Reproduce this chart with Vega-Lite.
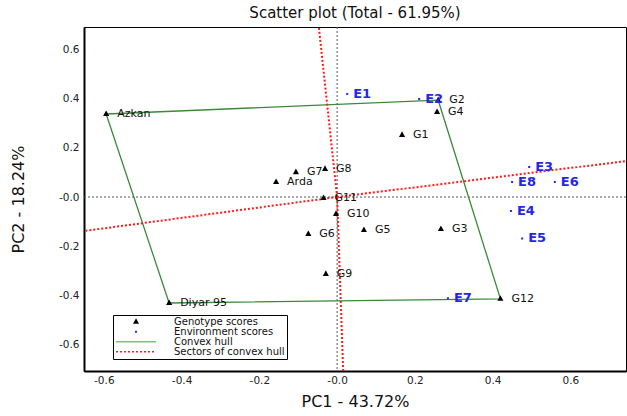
{
  "$schema": "https://vega.github.io/schema/vega-lite/v6.json",
  "width": 542,
  "height": 344,
  "autosize": {"type": "none"},
  "padding": {"left": 84, "top": 27, "right": 1, "bottom": 45},
  "background": "white",
  "title": {"text": "Scatter plot (Total - 61.95%)", "font": "DejaVu Sans", "fontSize": 15, "fontWeight": "normal", "color": "#111111", "anchor": "middle", "offset": 6},
  "config": {
    "view": {"stroke": "black", "strokeWidth": 1},
    "axis": {"grid": false, "ticks": false, "domainColor": "black", "domainWidth": 2, "labelFont": "DejaVu Sans", "labelFontSize": 10.5, "labelColor": "#222222", "titleFont": "DejaVu Sans", "titleFontSize": 16, "titleFontWeight": "normal", "titleColor": "#111111"}
  },
  "datasets": {
    "points": [
      {"name": "Azkan", "x": -0.594, "y": 0.337, "series": "Genotype scores"},
      {"name": "Diyar 95", "x": -0.432, "y": -0.43, "series": "Genotype scores"},
      {"name": "G2", "x": 0.26, "y": 0.393, "series": "Genotype scores"},
      {"name": "G4", "x": 0.257, "y": 0.345, "series": "Genotype scores"},
      {"name": "G1", "x": 0.167, "y": 0.252, "series": "Genotype scores"},
      {"name": "G12", "x": 0.42, "y": -0.413, "series": "Genotype scores"},
      {"name": "G3", "x": 0.267, "y": -0.13, "series": "Genotype scores"},
      {"name": "G5", "x": 0.069, "y": -0.134, "series": "Genotype scores"},
      {"name": "G10", "x": -0.003, "y": -0.069, "series": "Genotype scores"},
      {"name": "G6", "x": -0.074, "y": -0.15, "series": "Genotype scores"},
      {"name": "G9", "x": -0.029, "y": -0.312, "series": "Genotype scores"},
      {"name": "G11", "x": -0.035, "y": -0.004, "series": "Genotype scores"},
      {"name": "G7", "x": -0.106, "y": 0.101, "series": "Genotype scores"},
      {"name": "G8", "x": -0.031, "y": 0.114, "series": "Genotype scores"},
      {"name": "Arda", "x": -0.157, "y": 0.061, "series": "Genotype scores"},
      {"name": "E1", "x": 0.026, "y": 0.418, "series": "Environment scores"},
      {"name": "E2", "x": 0.211, "y": 0.398, "series": "Environment scores"},
      {"name": "E3", "x": 0.494, "y": 0.122, "series": "Environment scores"},
      {"name": "E8", "x": 0.45, "y": 0.061, "series": "Environment scores"},
      {"name": "E6", "x": 0.56, "y": 0.061, "series": "Environment scores"},
      {"name": "E4", "x": 0.447, "y": -0.057, "series": "Environment scores"},
      {"name": "E5", "x": 0.476, "y": -0.168, "series": "Environment scores"},
      {"name": "E7", "x": 0.285, "y": -0.411, "series": "Environment scores"}
    ],
    "hull": [
      {"i": 0, "x": -0.594, "y": 0.337},
      {"i": 1, "x": 0.26, "y": 0.393},
      {"i": 2, "x": 0.42, "y": -0.413},
      {"i": 3, "x": -0.432, "y": -0.43},
      {"i": 4, "x": -0.594, "y": 0.337}
    ],
    "rays": [
      {"x0": 0, "y0": 0, "x1": -0.047, "y1": 0.69},
      {"x0": 0, "y0": 0, "x1": 0.0156, "y1": -0.706},
      {"x0": 0, "y0": 0, "x1": -0.651, "y1": -0.138},
      {"x0": 0, "y0": 0, "x1": 0.743, "y1": 0.146}
    ],
    "zero": [{"v": 0}]
  },
  "layer": [
    {
      "data": {"name": "zero"},
      "mark": {"type": "rule", "color": "#555555", "strokeWidth": 1, "strokeDash": [2, 2]},
      "encoding": {
        "x": {"field": "v", "type": "quantitative", "scale": {"domain": [-0.651, 0.743], "nice": false, "zero": false},
          "axis": {"values": [-0.6, -0.4, -0.2, 0, 0.2, 0.4, 0.6], "labelExpr": "datum.value == 0 ? '-0.0' : (datum.value < 0 ? '-' : '') + format(abs(datum.value), '.1f')", "labelPadding": 4, "title": "PC1 - 43.72%", "titleY": 22, "titleBaseline": "top"}}
      }
    },
    {
      "data": {"name": "zero"},
      "mark": {"type": "rule", "color": "#555555", "strokeWidth": 1, "strokeDash": [2, 2]},
      "encoding": {
        "y": {"field": "v", "type": "quantitative", "scale": {"domain": [-0.706, 0.69], "nice": false, "zero": false},
          "axis": {"values": [-0.6, -0.4, -0.2, 0, 0.2, 0.4, 0.6], "labelExpr": "datum.value == 0 ? '-0.0' : (datum.value < 0 ? '-' : '') + format(abs(datum.value), '.1f')", "labelPadding": 5, "title": "PC2 - 18.24%", "titleX": -58, "titleY": 172, "titleAngle": -90, "titleBaseline": "bottom"}}
      }
    },
    {
      "data": {"name": "hull"},
      "mark": {"type": "line", "color": "#3a8a3a", "strokeWidth": 1.3},
      "encoding": {
        "x": {"field": "x", "type": "quantitative"},
        "y": {"field": "y", "type": "quantitative"},
        "order": {"field": "i", "type": "quantitative"}
      }
    },
    {
      "data": {"name": "rays"},
      "mark": {"type": "rule", "color": "#ff1a1a", "strokeWidth": 2, "strokeDash": [2, 2], "clip": true},
      "encoding": {
        "x": {"field": "x0", "type": "quantitative"},
        "y": {"field": "y0", "type": "quantitative"},
        "x2": {"field": "x1"},
        "y2": {"field": "y1"}
      }
    },
    {
      "data": {"name": "points"},
      "mark": {"type": "point", "filled": true, "opacity": 1, "size": 1600, "strokeWidth": 1.6},
      "encoding": {
        "x": {"field": "x", "type": "quantitative"},
        "y": {"field": "y", "type": "quantitative"},
        "color": {"field": "series", "type": "nominal",
          "scale": {"domain": ["Genotype scores", "Environment scores", "Convex hull", "Sectors of convex hull"], "range": ["#000000", "#2626e6", "#7cc07c", "#ff1a1a"]},
          "legend": {
            "title": null, "orient": "none", "legendX": 29, "legendY": 288, "direction": "vertical",
            "strokeColor": "black", "fillColor": "white", "padding": 2,
            "symbolSize": 1600, "clipHeight": 9.5, "rowPadding": -1.2,
            "labelFont": "DejaVu Sans", "labelFontSize": 10, "labelColor": "#111111", "labelOffset": 17, "labelLimit": 300
          }
        },
        "stroke": {"field": "series", "type": "nominal",
          "scale": {"domain": ["Genotype scores", "Environment scores", "Convex hull", "Sectors of convex hull"], "range": ["#000000", "#2626e6", "#7cc07c", "#ff1a1a"]},
          "legend": {"title": null}
        },
        "shape": {"field": "series", "type": "nominal",
          "scale": {"domain": ["Genotype scores", "Environment scores", "Convex hull", "Sectors of convex hull"], "range": ["M0,-0.095L0.085,0.06L-0.085,0.06Z", "M-0.01,-0.01L0.01,-0.01L0.01,0.01L-0.01,0.01Z", "stroke", "stroke"]},
          "legend": {"title": null}
        },
        "strokeDash": {"field": "series", "type": "nominal",
          "scale": {"domain": ["Genotype scores", "Environment scores", "Convex hull", "Sectors of convex hull"], "range": [[1, 0], [1, 0], [1, 0], [2, 2]]},
          "legend": {"title": null}
        }
      }
    },
    {
      "data": {"name": "points"},
      "transform": [{"filter": "datum.series == 'Genotype scores'"}],
      "mark": {"type": "text", "align": "left", "baseline": "middle", "dx": 11, "font": "DejaVu Sans", "fontSize": 11, "color": "#111111"},
      "encoding": {
        "x": {"field": "x", "type": "quantitative"},
        "y": {"field": "y", "type": "quantitative"},
        "text": {"field": "name"}
      }
    },
    {
      "data": {"name": "points"},
      "transform": [{"filter": "datum.series == 'Environment scores'"}],
      "mark": {"type": "text", "align": "left", "baseline": "middle", "dx": 6, "font": "DejaVu Sans", "fontSize": 13, "fontWeight": "bold", "color": "#2626e6"},
      "encoding": {
        "x": {"field": "x", "type": "quantitative"},
        "y": {"field": "y", "type": "quantitative"},
        "text": {"field": "name"}
      }
    }
  ]
}
